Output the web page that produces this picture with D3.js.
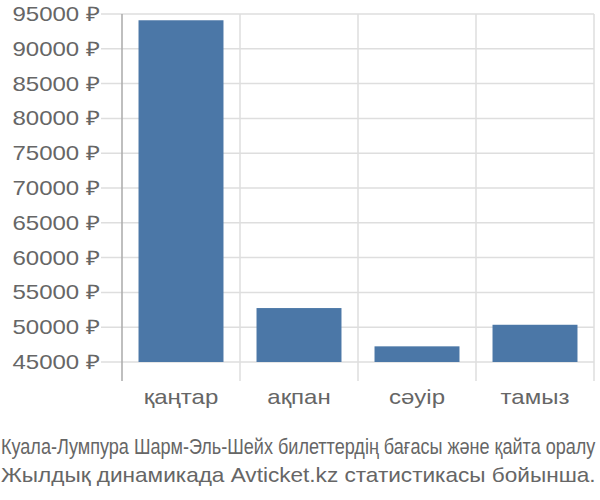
<!DOCTYPE html>
<html><head><meta charset="utf-8">
<script src="https://cdn.jsdelivr.net/npm/d3@7"></script>
<style>body{margin:0;background:#fff}svg{display:block}text{font-family:"Liberation Sans",Arial,sans-serif}</style>
</head><body>
<script>
const categories = ["қаңтар", "ақпан", "сәуір", "тамыз"];
const prices = [94100, 52750, 47250, 50350];
const yTicks = [45000, 50000, 55000, 60000, 65000, 70000, 75000, 80000, 85000, 90000, 95000];
const titleLines = ["Куала-Лумпура Шарм-Эль-Шейх билеттердің бағасы және қайта оралу", "Жылдық динамикада Avticket.kz статистикасы бойынша."];

const W = 600, H = 500;
const m = {left: 122, right: 6, top: 14, bottom: 138};
const SX = 1.2;
const svg = d3.select("body").append("svg").attr("width", W).attr("height", H);

const x = d3.scaleBand().domain(categories).range([m.left, W - m.right]).paddingInner(0.28).paddingOuter(0.14);
const xb = d3.scaleBand().domain(categories).range([m.left, W - m.right]);
const y = d3.scaleLinear().domain([45000, 95000]).range([H - m.bottom, m.top]);

// horizontal grid
svg.append("g").selectAll("line").data(yTicks).join("line")
  .attr("x1", 101).attr("x2", W - m.right)
  .attr("y1", d => y(d)).attr("y2", d => y(d))
  .attr("stroke", "#dedede").attr("stroke-width", 1.5);

// vertical grid
const vx = categories.slice(1).map(c => xb(c)).concat([W - m.right]);
svg.append("g").selectAll("line").data(vx).join("line")
  .attr("x1", d => d).attr("x2", d => d)
  .attr("y1", m.top).attr("y2", 381)
  .attr("stroke", "#dedede").attr("stroke-width", 1.5);

// left axis line
svg.append("line").attr("x1", m.left).attr("x2", m.left).attr("y1", m.top).attr("y2", 381)
  .attr("stroke", "#aaa").attr("stroke-width", 1.5);

// bars
svg.append("g").selectAll("rect").data(prices).join("rect")
  .attr("x", (d, i) => x(categories[i]))
  .attr("width", x.bandwidth())
  .attr("y", d => y(d))
  .attr("height", d => y(45000) - y(d))
  .attr("fill", "#4b77a7");

// y tick labels
svg.append("g").selectAll("text").data(yTicks).join("text")
  .attr("transform", d => `translate(100,${y(d)}) scale(${SX},1)`)
  .attr("dy", "0.35em")
  .attr("text-anchor", "end").attr("fill", "#666").attr("font-size", 20)
  .text(d => d + " ₽");

// x labels
svg.append("g").selectAll("text").data(categories).join("text")
  .attr("transform", d => `translate(${xb(d) + xb.bandwidth() / 2},404) scale(${SX},1)`)
  .attr("text-anchor", "middle").attr("fill", "#666").attr("font-size", 20)
  .text(d => d);

// title: fit each line to the width by horizontal scaling
[[titleLines[0], 454, 22], [titleLines[1], 482, 21]].forEach(([t, yy, fs]) => {
  const el = svg.append("text").attr("fill", "#666").attr("font-size", fs).text(t);
  const w = el.node().getComputedTextLength();
  const s = 595 / w;
  el.attr("transform", `translate(1,${yy}) scale(${s},1)`);
});
</script>
</body></html>
